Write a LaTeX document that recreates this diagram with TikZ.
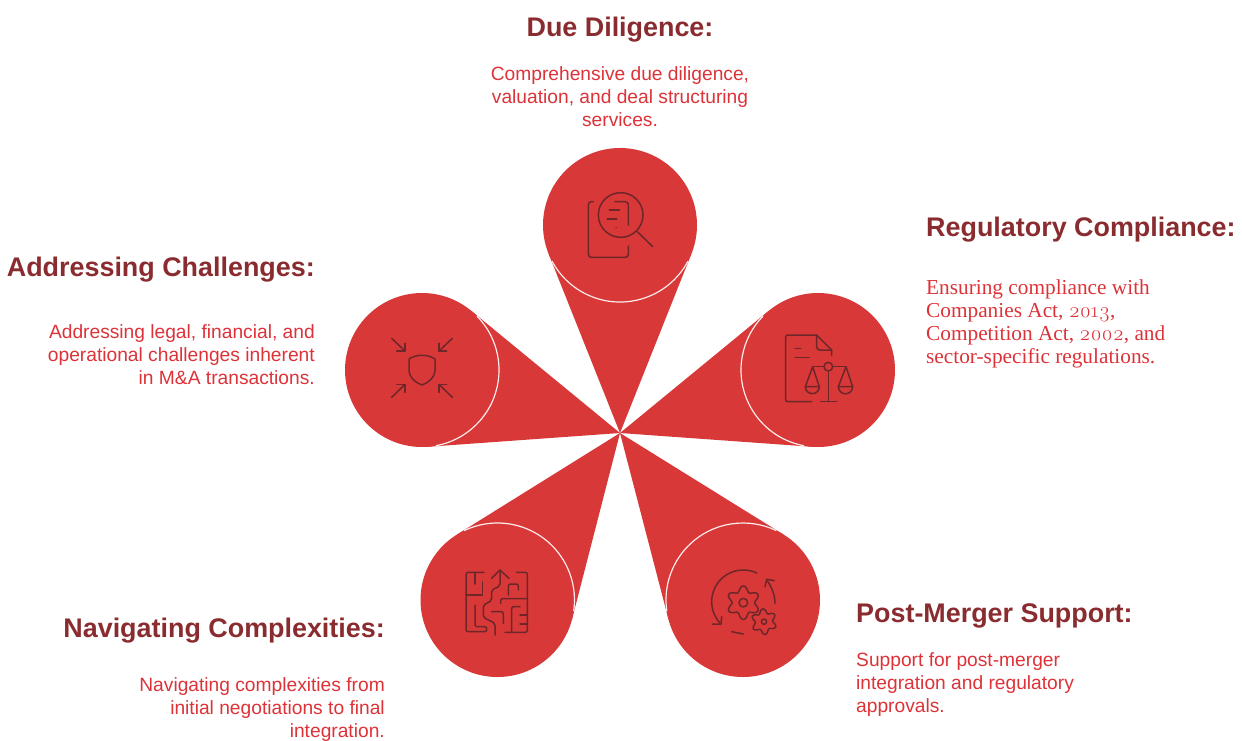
\documentclass[tikz,border=0pt]{standalone}
\usepackage{fontspec}
\setmainfont{Liberation Sans}
\newfontfamily\bookface{Liberation Serif}
\newfontfamily\oldnum[Numbers=OldStyle]{Latin Modern Roman}
\usepackage{tikz}
\usetikzlibrary{positioning,calc}
\definecolor{petalred}{HTML}{D83838}
\definecolor{headred}{HTML}{8A2C2F}
\definecolor{textred}{HTML}{DC3238}
\definecolor{inkred}{HTML}{6E2629}
\tikzstyle{lobe} = [circle, fill=petalred, minimum size=154pt, inner sep=0pt, outer sep=0pt]
\tikzstyle{rim} = [draw=red!8!white, line width=1.2pt]
\tikzstyle{heading} = [font={\fontsize{26.9}{30}\selectfont\bfseries}, text=headred, inner sep=0pt]
\tikzstyle{blurb} = [font={\fontsize{19.2}{23}\selectfont}, text=textred, inner sep=0pt]
\tikzstyle{serifblurb} = [font={\fontsize{21.3}{23}\selectfont\bookface}, text=textred, inner sep=0pt]
\tikzstyle{icon} = [draw=inkred, line width=1.5pt, line cap=round, line join=round]
\newcommand{\petal}[2]{
	\fill[petalred] (hub) -- (tangent cs:node=#1,point={(hub)},solution=1) -- (tangent cs:node=#1,point={(hub)},solution=2) -- cycle;
	\draw[rim] (#1) ++(#2-62:77) arc[start angle=#2-62, end angle=#2+62, radius=77];
}
\newcommand{\gear}[4]{
	\draw[icon] plot[domain=0:360, samples=73, smooth] ({#1+#3*(1+0.2*cos(6*\x+#4))*cos(\x)}, {#2+#3*(1+0.2*cos(6*\x+#4))*sin(\x)});
}
\begin{document}
\begin{tikzpicture}[x=1pt, y=-1pt]
	\clip (0,0) rectangle (1242,740);
	\coordinate (hub) at (620,433);
	\node[lobe] (due) at (620,225) {};
	\node[lobe] (regulatory) at (818,370) {};
	\node[lobe] (addressing) at (422,370) {};
	\node[lobe] (navigating) at (497.5,600) {};
	\node[lobe] (post) at (743,600) {};
	\petal{due}{90}
	\petal{regulatory}{162.4}
	\petal{addressing}{17.6}
	\petal{navigating}{-53.7}
	\petal{post}{-126.4}

	\node[heading] (duehead) at (620,30) {Due Diligence:};
	\node[blurb, align=center, anchor=north] (duetext) at (620,66) {Comprehensive due diligence,\\valuation, and deal structuring\\services.};
	\node[heading, anchor=west] (regulatoryhead) at (926,230) {Regulatory Compliance:};
	\node[serifblurb, align=left, anchor=north west] (regulatorytext) at (926,280) {Ensuring compliance with\\Companies Act, {\oldnum 2013},\\Competition Act, {\oldnum 2002}, and\\sector-specific regulations.};
	\node[heading, anchor=east] (addressinghead) at (315,270) {Addressing Challenges:};
	\node[blurb, align=right, anchor=north east] (addressingtext) at (315,324) {Addressing legal, financial, and\\operational challenges inherent\\in M\&A transactions.};
	\node[heading, anchor=east] (navigatinghead) at (385,631) {Navigating Complexities:};
	\node[blurb, align=right, anchor=north east] (navigatingtext) at (385,677) {Navigating complexities from\\initial negotiations to final\\integration.};
	\node[heading, anchor=west] (posthead) at (856,616) {Post-Merger Support:};
	\node[blurb, align=left, anchor=north west] (posttext) at (856,652) {Support for post-merger\\integration and regulatory\\approvals.};

	\begin{scope}[shift={(530,140)}, scale=1/3]
		\draw[icon, rounded corners=3pt] (190,185) -- (175,185) -- (175,352) -- (295,352) -- (295,318);
		\draw[icon, rounded corners=3pt] (255,185) -- (295,185) -- (295,255);
		\draw[icon] (272,225) circle[radius=67];
		\draw[icon] (322,275) -- (368,320);
		\draw[icon] (238,210) -- (268,210);
		\draw[icon] (232,237) -- (260,237);
		\draw[icon] (258,262) -- (259,262);
	\end{scope}
	\begin{scope}[shift={(730,285)}, scale=1/3]
		\draw[icon, rounded corners=2pt] (245,350) -- (167,350) -- (167,150) -- (260,150);
		\draw[icon] (260,150) -- (305,195) -- (305,212);
		\draw[icon, rounded corners=3pt] (260,150) -- (260,195) -- (305,195);
		\draw[icon] (195,190) -- (212,190);
		\draw[icon] (195,218) -- (238,218);
		\draw[icon] (295,245) circle[radius=13];
		\draw[icon] (248,245) -- (282,245);
		\draw[icon] (308,245) -- (348,245);
		\draw[icon] (295,258) -- (295,350);
		\draw[icon] (272,350) -- (320,350);
		\draw[icon] (226,305) -- (248,245) -- (268,305);
		\draw[icon] (325,305) -- (348,245) -- (368,305);
		\draw[icon] (226,305) -- (268,305) arc[start angle=0, end angle=180, radius=21];
		\draw[icon] (325,305) -- (368,305) arc[start angle=0, end angle=180, radius=21.5];
	\end{scope}
	\begin{scope}[shift={(335,285)}, scale=1/3]
		\draw[icon] (170,160) -- (210,198);
		\draw[icon] (210,175) -- (210,198) -- (185,198);
		\draw[icon] (352,160) -- (312,198);
		\draw[icon] (312,175) -- (312,198) -- (335,198);
		\draw[icon] (170,337) -- (210,298);
		\draw[icon] (185,298) -- (210,298) -- (210,322);
		\draw[icon] (352,337) -- (312,298);
		\draw[icon] (335,298) -- (312,298) -- (312,322);
		\draw[icon] (222,222) .. controls (245,207) and (277,207) .. (300,222) -- (300,255) .. controls (300,280) and (275,295) .. (261,300) .. controls (247,295) and (222,280) .. (222,255) -- cycle;
	\end{scope}
	\begin{scope}[shift={(410,510)}, scale=1/3]
		\draw[icon, rounded corners=2pt] (222,187) -- (168,187) -- (168,365) -- (230,365) -- (230,350) -- (195,350) -- (195,285);
		\draw[icon] (195,190) -- (195,222);
		\draw[icon] (168,255) -- (218,255) -- (218,215);
		\draw[icon] (245,205) -- (270,180) -- (297,205);
		\draw[icon, rounded corners=2pt] (270,180) -- (270,228) -- (245,240) -- (245,272) -- (220,285) -- (220,322) -- (255,340) -- (255,375);
		\draw[icon, rounded corners=2pt] (320,187) -- (352,187) -- (352,367) -- (285,367);
		\draw[icon, rounded corners=2pt] (295,255) -- (295,222) -- (325,222) -- (325,240);
		\draw[icon, rounded corners=2pt] (272,280) -- (272,266) -- (352,266);
		\draw[icon, rounded corners=2pt] (245,305) -- (280,305) -- (280,340);
		\draw[icon, rounded corners=2pt] (305,367) -- (305,290) -- (330,290);
		\draw[icon] (330,315) -- (352,315);
		\draw[icon] (330,342) -- (352,342);
	\end{scope}
	\begin{scope}[shift={(655,510)}, scale=1/3]
		\draw[icon] (265,275) ++(-65:95) arc[start angle=-65, end angle=-222, radius=95];
		\draw[icon] (172,342) -- (198,342) -- (200,320);
		\draw[icon] (230,365) -- (265,372);
		\draw[icon] (360,280) .. controls (360,255) and (350,230) .. (335,210);
		\draw[icon] (330,230) -- (335,208) -- (358,212);
		\gear{265}{278}{42}{180}
		\draw[icon] (265,278) circle[radius=13];
		\gear{327}{335}{32}{210}
		\draw[icon] (327,335) circle[radius=8];
	\end{scope}
\end{tikzpicture}
\end{document}
